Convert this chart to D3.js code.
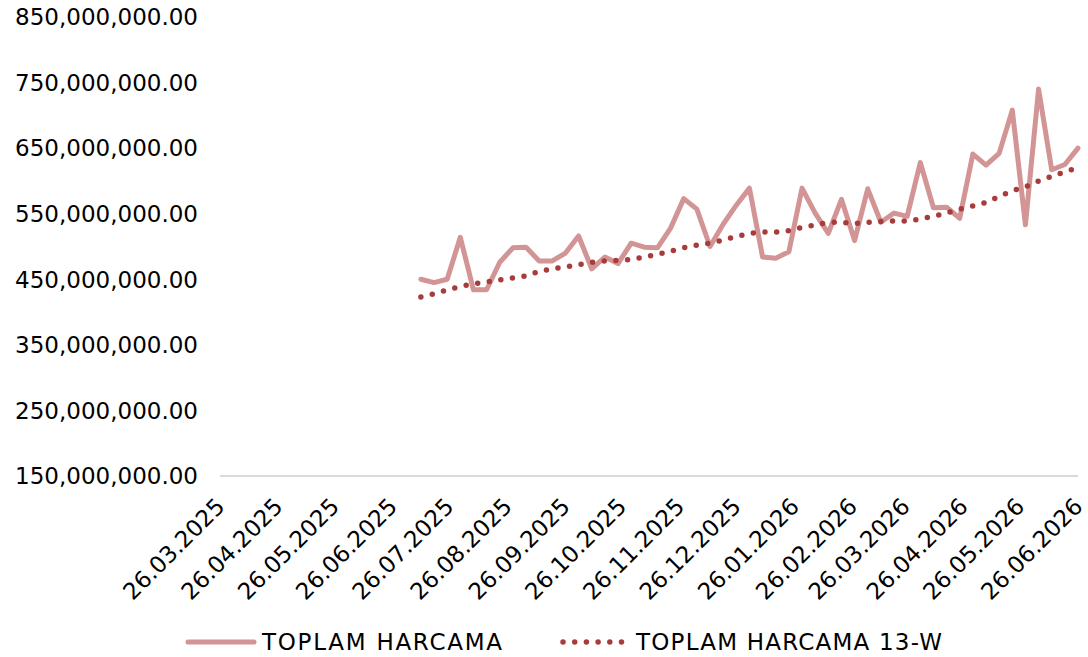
<!DOCTYPE html>
<html>
<head>
<meta charset="utf-8">
<script src="https://cdn.jsdelivr.net/npm/d3@7"></script>
<style>
  body { margin: 0; background: #fff; }
  text { font-family: "DejaVu Sans", sans-serif; fill: #000; }
</style>
</head>
<body>
<svg id="chart" width="1088" height="657"></svg>
<script>
// weekly dates: 11.07.2025 ... 26.06.2026
const startDate = new Date(2025, 6, 11)
const weeks = d3.range(51).map(i => d3.timeDay.offset(startDate, i * 7))

// TOPLAM HARCAMA (millions)
const harcama = [
  450, 445, 450, 514, 434, 434, 476, 498, 499, 478,
  478, 490, 516, 466, 484, 474, 505, 499, 498, 528,
  573, 557, 500, 534, 563, 589, 484, 482, 492, 589,
  551, 520, 572, 509, 588, 537, 551, 546, 628, 559,
  560, 543, 641, 624, 642, 708, 533, 740, 617, 625,
  650
]

// TOPLAM HARCAMA 13-W (millions)
const harcama13w = [
  423, 428, 434, 439, 443, 446, 449, 452, 455, 462,
  466, 469, 472, 476, 478, 479, 480, 484, 488, 493,
  498, 502, 505, 510, 515, 520, 522, 522, 524, 529,
  533, 537, 537, 535, 537, 538, 539, 539, 542, 546,
  551, 557, 562, 567, 576, 585, 591, 600, 607, 614,
  620
]

const xTicks = d3.timeMonth.range(new Date(2025, 2, 1), new Date(2026, 5, 2))
  .map(d => new Date(d.getFullYear(), d.getMonth(), 26))
const yTicks = d3.range(150e6, 850e6 + 1, 100e6)

const svg = d3.select('#chart')

const x = d3.scaleTime([new Date(2025, 2, 26), new Date(2026, 5, 26)], [220, 1078])
const y = d3.scaleLinear([150e6, 850e6], [476, 17])

// y labels
svg.append('g')
  .selectAll('text')
  .data(yTicks)
  .join('text')
  .attr('x', 198)
  .attr('y', d => y(d))
  .attr('dy', '0.36em')
  .attr('text-anchor', 'end')
  .attr('font-size', '23px')
  .text(d => d3.format(',.2f')(d))

// x axis line
svg.append('line')
  .attr('x1', 220).attr('x2', 1078)
  .attr('y1', y(150e6)).attr('y2', y(150e6))
  .attr('stroke', '#d9d9d9')
  .attr('stroke-width', 2)

svg.append('g')
  .selectAll('text')
  .data(xTicks)
  .join('text')
  .attr('text-anchor', 'end')
  .attr('font-size', '23px')
  .attr('transform', d => `translate(${x(d) + 6}, 508) rotate(-45)`)
  .text(d3.timeFormat('%d.%m.%Y'))

const line = d3.line()
  .x((d, i) => x(weeks[i]))
  .y(d => y(d * 1e6))

svg.append('path')
  .datum(harcama)
  .attr('d', line)
  .attr('fill', 'none')
  .attr('stroke', '#d29494')
  .attr('stroke-width', 5)
  .attr('stroke-linejoin', 'round')
  .attr('stroke-linecap', 'round')

svg.append('path')
  .datum(harcama13w)
  .attr('d', line)
  .attr('fill', 'none')
  .attr('stroke', '#a83c3c')
  .attr('stroke-width', 5.5)
  .attr('stroke-linecap', 'round')
  .attr('stroke-dasharray', '0 11.7')

// legend
const legend = svg.append('g')
legend.append('line')
  .attr('x1', 188).attr('x2', 254).attr('y1', 642).attr('y2', 642)
  .attr('stroke', '#d29494').attr('stroke-width', 5).attr('stroke-linecap', 'round')
legend.append('text')
  .attr('x', 262).attr('y', 650)
  .attr('font-size', '23px')
  .attr('textLength', 240)
  .text('TOPLAM HARCAMA')
legend.append('line')
  .attr('x1', 563).attr('x2', 626).attr('y1', 642).attr('y2', 642)
  .attr('stroke', '#a83c3c').attr('stroke-width', 5.5).attr('stroke-linecap', 'round')
  .attr('stroke-dasharray', '0 11.7')
legend.append('text')
  .attr('x', 636).attr('y', 650)
  .attr('font-size', '23px')
  .attr('textLength', 306)
  .text('TOPLAM HARCAMA 13-W')
</script>
</body>
</html>
